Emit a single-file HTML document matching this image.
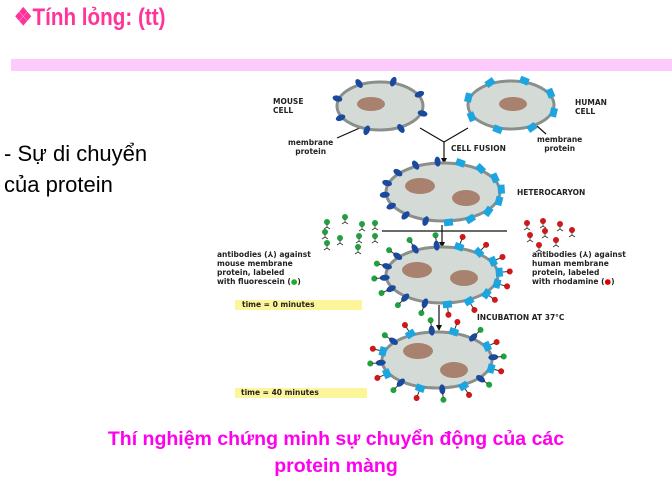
<!DOCTYPE html>
<html><head><meta charset="utf-8">
<style>
body{margin:0;width:672px;height:488px;background:#fff;position:relative;overflow:hidden;font-family:"Liberation Sans",sans-serif}
.abs{position:absolute;white-space:nowrap}
.lbl{font-family:"DejaVu Sans","Liberation Sans",sans-serif;font-weight:bold;font-size:7.5px;color:#222;line-height:9px}
</style></head><body>
<div class="abs" style="left:14px;top:3px;font-size:24px;font-weight:bold;color:#ff3399;transform:scaleX(0.86);transform-origin:left">❖Tính lỏng: (tt)</div>
<div class="abs" style="left:11px;top:59px;width:661px;height:12px;background:#fccbfb"></div>
<div class="abs" style="left:4px;top:138px;font-size:22px;line-height:31px;color:#000">- Sự di chuyển<br>của protein</div>
<div class="abs" style="left:0;width:672px;top:426px;text-align:center;font-size:19.5px;font-weight:bold;color:#ff00ee;line-height:27px;white-space:normal">Thí nghiệm chứng minh sự chuyển động của các<br>protein màng</div>

<svg class="abs" style="left:0;top:0" width="672" height="488" id="dg">
<g stroke="#111" stroke-width="1.2" fill="none">
<line x1="420" y1="128" x2="444" y2="142"/><line x1="468" y1="128" x2="444" y2="142"/>
<line x1="444" y1="142" x2="444" y2="158"/>
<line x1="382" y1="231" x2="507" y2="231"/>
<line x1="442" y1="225" x2="442" y2="242"/>
<line x1="439" y1="305" x2="439" y2="325"/>
<line x1="337" y1="138" x2="362" y2="127"/>
<line x1="546" y1="134" x2="537" y2="126"/>
</g>
<g fill="#111"><path d="M441 158 L447 158 L444 164Z"/><path d="M439 242 L445 242 L442 248Z"/><path d="M436 325 L442 325 L439 331Z"/></g>
</svg>

<div class="abs lbl" style="left:273px;top:97px">MOUSE<br>CELL</div>
<div class="abs lbl" style="left:575px;top:98px">HUMAN<br>CELL</div>
<div class="abs lbl" style="left:288px;top:138px;text-align:center">membrane<br>protein</div>
<div class="abs lbl" style="left:537px;top:135px;text-align:center">membrane<br>protein</div>
<div class="abs lbl" style="left:451px;top:144px">CELL FUSION</div>
<div class="abs lbl" style="left:517px;top:188px">HETEROCARYON</div>
<div class="abs lbl" style="left:217px;top:250px">antibodies (⅄) against<br>mouse membrane<br>protein, labeled<br>with fluorescein (<span style="color:#2a2">●</span>)</div>
<div class="abs lbl" style="left:532px;top:250px">antibodies (⅄) against<br>human membrane<br>protein, labeled<br>with rhodamine (<span style="color:#d00">●</span>)</div>
<div class="abs lbl" style="left:235px;top:300px;width:127px;height:10px;background:#fdf59a;padding-left:7px;box-sizing:border-box">time = 0 minutes</div>
<div class="abs lbl" style="left:477px;top:313px">INCUBATION AT 37°C</div>
<div class="abs lbl" style="left:235px;top:388px;width:132px;height:10px;background:#fdf59a;padding-left:6px;box-sizing:border-box">time = 40 minutes</div>

<script>
const svg=document.getElementById('dg');const NS='http://www.w3.org/2000/svg';
function el(t,a,nm){const e=document.createElementNS(NS,t);for(const k in a)e.setAttribute(k,a[k]);


svg.appendChild(e);return e;}
const cells=[
 {x:380,y:106,rx:43,ry:24,nuc:[[371,104,14,7]],n:8,type:'m',ab:0},
 {x:511,y:105,rx:43,ry:24,nuc:[[513,104,14,7]],n:8,type:'h',ab:0},
 {x:443,y:192,rx:57,ry:29,nuc:[[420,186,15,8],[466,198,14,8]],n:16,type:'mix',ab:0},
 {x:442,y:275,rx:56,ry:28,nuc:[[417,270,15,8],[464,278,14,8]],n:16,type:'mix',ab:1},
 {x:437,y:360,rx:55,ry:28,nuc:[[418,351,15,8],[454,370,14,8]],n:16,type:'mixed',ab:1}
];
cells.forEach((c,ci)=>{
 el('ellipse',{cx:c.x,cy:c.y,rx:c.rx,ry:c.ry,fill:'#d4dad6',stroke:'#8a8f8c','stroke-width':3},'cell-'+ci);
 c.nuc.forEach(n=>el('ellipse',{cx:n[0],cy:n[1],rx:n[2],ry:n[3],fill:'#a8826e'},'nucleus'));
 for(let i=0;i<c.n;i++){
  const a=i/c.n*Math.PI*2+0.3;
  let human;
  if(c.type==='m')human=false;else if(c.type==='h')human=true;
  else if(c.type==='mix')human=Math.cos(a)>0.05;
  else human=i%2===0;
  const px=c.x+Math.cos(a)*c.rx,py=c.y+Math.sin(a)*c.ry;
  const deg=Math.atan2(Math.sin(a)*c.rx*0.6,Math.cos(a)*c.ry*1.4)*180/Math.PI;
  const g=el('g',{transform:`translate(${px},${py}) rotate(${deg})`},'membrane-protein');
  const r=document.createElementNS(NS,human?'rect':'ellipse');
  if(human){r.setAttribute('x',-2);r.setAttribute('y',-4.5);r.setAttribute('width',7);r.setAttribute('height',9);r.setAttribute('fill','#1da5e0');}
  else{r.setAttribute('cx',1.5);r.setAttribute('cy',0);r.setAttribute('rx',5);r.setAttribute('ry',3);r.setAttribute('fill','#1a4aa0');}
  g.appendChild(r);
  if(c.ab){const d=document.createElementNS(NS,'circle');d.setAttribute('cx',12);d.setAttribute('cy',0);d.setAttribute('r',3);d.setAttribute('fill',human?'#d01818':'#22a040');g.appendChild(d);
   const l=document.createElementNS(NS,'line');l.setAttribute('x1',5);l.setAttribute('x2',10);l.setAttribute('y1',0);l.setAttribute('y2',0);l.setAttribute('stroke','#333');g.appendChild(l);}
 }
});
const greens=[[327,222],[345,217],[362,224],[375,223],[325,232],[340,238],[359,236],[375,236],[327,243],[358,247]];
greens.forEach(p=>{el('circle',{cx:p[0],cy:p[1],r:3,fill:'#22a040'},'free-fluorescein-antibody');el('path',{d:`M${p[0]} ${p[1]+2} l0 3 l-3 2 M${p[0]} ${p[1]+5} l3 2`,stroke:'#333','stroke-width':0.8,fill:'none'},'antibody-stem');});
const reds=[[527,223],[543,221],[560,224],[572,230],[530,235],[545,231],[556,240],[539,245]];
reds.forEach(p=>{el('circle',{cx:p[0],cy:p[1],r:3,fill:'#d01818'},'free-rhodamine-antibody');el('path',{d:`M${p[0]} ${p[1]+2} l0 3 l-3 2 M${p[0]} ${p[1]+5} l3 2`,stroke:'#333','stroke-width':0.8,fill:'none'},'antibody-stem');});
</script>
</body></html>
